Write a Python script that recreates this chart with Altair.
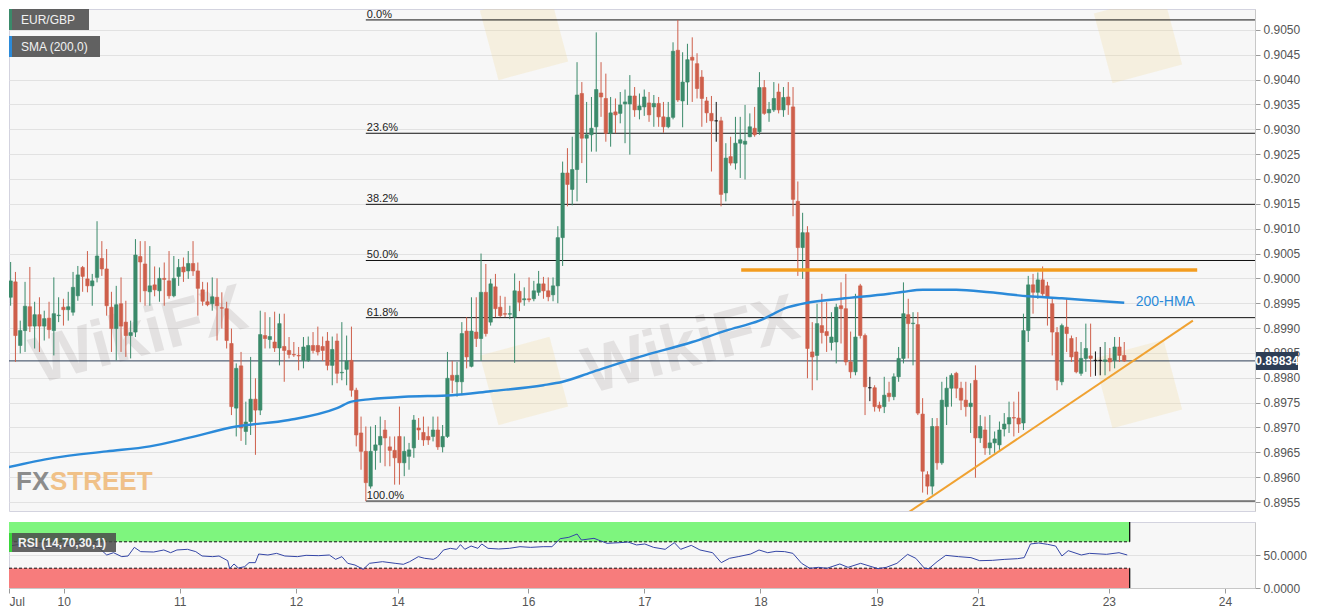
import altair as alt
import pandas as pd

# ---------------- data (EUR/GBP, 1-hour candles) ----------------
# trading-hour index: 0 = Jul 10 00:00 (weekend hours are skipped on the axis)
FIRST_HOUR = -13

OPEN = [
    0.89946, 0.89962, 0.89993, 0.89865, 0.89895, 0.89943, 0.89904, 0.89927, 0.89904, 0.89920,
    0.89895, 0.89925, 0.89942, 0.89937, 0.89932, 0.89965, 0.90022, 0.89999, 0.89985, 0.90002,
    0.90040, 0.90019, 0.89942, 0.89899, 0.89949, 0.89912, 0.89885, 0.89892, 0.90044, 0.90029,
    0.89973, 0.89987, 0.89975, 0.90000, 0.89995, 0.89965, 0.90004, 0.90023, 0.90015, 0.90030,
    0.90015, 0.89977, 0.89953, 0.89949, 0.89962, 0.89941, 0.89939, 0.89869, 0.89739, 0.89824,
    0.89692, 0.89712, 0.89757, 0.89735, 0.89885, 0.89877, 0.89872, 0.89860, 0.89863, 0.89855,
    0.89847, 0.89845, 0.89835, 0.89835, 0.89865, 0.89865, 0.89863, 0.89874, 0.89825, 0.89874,
    0.89810, 0.89817, 0.89835, 0.89775, 0.89689, 0.89652, 0.89582, 0.89654, 0.89665, 0.89695,
    0.89661, 0.89654, 0.89682, 0.89629, 0.89642, 0.89659, 0.89699, 0.89690, 0.89682, 0.89682,
    0.89695, 0.89661, 0.89682, 0.89805, 0.89792, 0.89792, 0.89894, 0.89823, 0.89892, 0.89879,
    0.89972, 0.89912, 0.89983, 0.89942, 0.89929, 0.89928, 0.89922, 0.89974, 0.89957, 0.89959,
    0.89959, 0.89972, 0.89989, 0.89975, 0.89967, 0.89985, 0.90082, 0.90212, 0.90179, 0.90219,
    0.90372, 0.90282, 0.90289, 0.90305, 0.90373, 0.90362, 0.90292, 0.90335, 0.90332, 0.90351,
    0.90351, 0.90367, 0.90339, 0.90345, 0.90353, 0.90345, 0.90352, 0.90325, 0.90305, 0.90324,
    0.90459, 0.90357, 0.90395, 0.90445, 0.90432, 0.90405, 0.90357, 0.90332, 0.90317, 0.90317,
    0.90172, 0.90245, 0.90232, 0.90272, 0.90270, 0.90285, 0.90302, 0.90295, 0.90384, 0.90333,
    0.90339, 0.90375, 0.90339, 0.90365, 0.90345, 0.90155, 0.90062, 0.90092, 0.89852, 0.89845,
    0.89905, 0.89893, 0.89871, 0.89872, 0.89945, 0.89939, 0.89832, 0.89812, 0.89985, 0.89885,
    0.89780, 0.89780, 0.89745, 0.89742, 0.89769, 0.89762, 0.89802, 0.89839, 0.89927, 0.89909,
    0.89907, 0.89727, 0.89605, 0.89582, 0.89702, 0.89629, 0.89742, 0.89779, 0.89809, 0.89779,
    0.89755, 0.89742, 0.89795, 0.89679, 0.89695, 0.89659, 0.89669, 0.89665, 0.89697, 0.89707,
    0.89720, 0.89719, 0.89709, 0.89895, 0.89987, 0.89972, 0.89997, 0.89985, 0.89949, 0.89891,
    0.89792, 0.89902, 0.89879, 0.89852, 0.89809, 0.89839, 0.89844, 0.89835, 0.89835, 0.89833,
    0.89839, 0.89835, 0.89862, 0.89845,
]
HIGH = [
    0.90032, 0.90033, 0.90013, 0.89915, 0.89993, 0.90023, 0.89953, 0.89962, 0.89935, 0.89953,
    0.90002, 0.89962, 0.89959, 0.89973, 0.90013, 0.90025, 0.90025, 0.90055, 0.90009, 0.90115,
    0.90075, 0.90059, 0.89973, 0.89985, 0.90002, 0.89955, 0.89915, 0.90079, 0.90075, 0.90075,
    0.90065, 0.90024, 0.90022, 0.90032, 0.90055, 0.90045, 0.90039, 0.90042, 0.90055, 0.90075,
    0.90032, 0.89993, 0.89992, 0.90002, 0.90000, 0.89972, 0.89953, 0.89899, 0.89829, 0.89852,
    0.89752, 0.89842, 0.89799, 0.89935, 0.89932, 0.89922, 0.89933, 0.89929, 0.89929, 0.89882,
    0.89872, 0.89862, 0.89882, 0.89883, 0.89892, 0.89903, 0.89883, 0.89892, 0.89883, 0.89889,
    0.89912, 0.89885, 0.89903, 0.89780, 0.89722, 0.89702, 0.89702, 0.89705, 0.89722, 0.89715,
    0.89682, 0.89682, 0.89742, 0.89682, 0.89669, 0.89725, 0.89719, 0.89722, 0.89702, 0.89722,
    0.89722, 0.89705, 0.89852, 0.89834, 0.89832, 0.89912, 0.89922, 0.89962, 0.89962, 0.90050,
    0.90029, 0.89999, 0.90009, 0.89965, 0.89963, 0.89945, 0.90010, 0.89995, 0.89982, 0.90002,
    0.89995, 0.90015, 0.90003, 0.90002, 0.90002, 0.90105, 0.90235, 0.90262, 0.90285, 0.90435,
    0.90395, 0.90355, 0.90365, 0.90495, 0.90435, 0.90412, 0.90365, 0.90362, 0.90375, 0.90380,
    0.90409, 0.90385, 0.90372, 0.90380, 0.90375, 0.90369, 0.90365, 0.90355, 0.90355, 0.90475,
    0.90520, 0.90455, 0.90472, 0.90485, 0.90453, 0.90419, 0.90365, 0.90367, 0.90355, 0.90325,
    0.90272, 0.90285, 0.90325, 0.90325, 0.90349, 0.90332, 0.90345, 0.90415, 0.90399, 0.90355,
    0.90395, 0.90392, 0.90385, 0.90395, 0.90385, 0.90195, 0.90132, 0.90105, 0.89912, 0.89949,
    0.89969, 0.89952, 0.89932, 0.89949, 0.89992, 0.90009, 0.89893, 0.89969, 0.89989, 0.89889,
    0.89802, 0.89785, 0.89752, 0.89802, 0.89792, 0.89809, 0.89862, 0.89992, 0.89959, 0.89932,
    0.89932, 0.89759, 0.89612, 0.89719, 0.89719, 0.89792, 0.89802, 0.89809, 0.89812, 0.89792,
    0.89792, 0.89789, 0.89825, 0.89725, 0.89722, 0.89725, 0.89692, 0.89712, 0.89729, 0.89752,
    0.89752, 0.89772, 0.89929, 0.90005, 0.90009, 0.90012, 0.90024, 0.89993, 0.89962, 0.89902,
    0.89909, 0.89959, 0.89885, 0.89882, 0.89872, 0.89909, 0.89909, 0.89853, 0.89862, 0.89872,
    0.89860, 0.89882, 0.89882, 0.89872,
]
LOW = [
    0.89859, 0.89945, 0.89832, 0.89849, 0.89852, 0.89892, 0.89859, 0.89852, 0.89875, 0.89879,
    0.89845, 0.89912, 0.89905, 0.89915, 0.89925, 0.89955, 0.89973, 0.89972, 0.89945, 0.89992,
    0.90005, 0.89925, 0.89852, 0.89835, 0.89852, 0.89842, 0.89839, 0.89882, 0.89952, 0.89945,
    0.89945, 0.89964, 0.89953, 0.89945, 0.89959, 0.89962, 0.89985, 0.89993, 0.89999, 0.90005,
    0.89925, 0.89945, 0.89944, 0.89935, 0.89875, 0.89899, 0.89859, 0.89725, 0.89682, 0.89673,
    0.89665, 0.89685, 0.89645, 0.89725, 0.89859, 0.89859, 0.89852, 0.89825, 0.89792, 0.89839,
    0.89842, 0.89815, 0.89819, 0.89832, 0.89849, 0.89845, 0.89834, 0.89815, 0.89785, 0.89789,
    0.89795, 0.89785, 0.89762, 0.89662, 0.89615, 0.89552, 0.89577, 0.89615, 0.89629, 0.89622,
    0.89622, 0.89585, 0.89585, 0.89602, 0.89615, 0.89639, 0.89675, 0.89663, 0.89665, 0.89672,
    0.89655, 0.89650, 0.89679, 0.89769, 0.89762, 0.89765, 0.89819, 0.89821, 0.89862, 0.89834,
    0.89883, 0.89905, 0.89922, 0.89922, 0.89922, 0.89918, 0.89830, 0.89934, 0.89945, 0.89952,
    0.89954, 0.89965, 0.89959, 0.89954, 0.89954, 0.89950, 0.90025, 0.90145, 0.90147, 0.90155,
    0.90232, 0.90192, 0.90255, 0.90255, 0.90325, 0.90275, 0.90265, 0.90292, 0.90312, 0.90272,
    0.90249, 0.90325, 0.90320, 0.90327, 0.90315, 0.90305, 0.90305, 0.90293, 0.90302, 0.90320,
    0.90355, 0.90304, 0.90349, 0.90355, 0.90362, 0.90305, 0.90313, 0.90215, 0.90275, 0.90145,
    0.90155, 0.90227, 0.90219, 0.90202, 0.90199, 0.90284, 0.90285, 0.90289, 0.90329, 0.90315,
    0.90335, 0.90332, 0.90325, 0.90329, 0.90125, 0.90005, 0.89999, 0.89799, 0.89775, 0.89795,
    0.89869, 0.89852, 0.89855, 0.89829, 0.89869, 0.89825, 0.89799, 0.89805, 0.89879, 0.89725,
    0.89753, 0.89732, 0.89732, 0.89729, 0.89752, 0.89755, 0.89792, 0.89829, 0.89839, 0.89825,
    0.89725, 0.89569, 0.89565, 0.89565, 0.89615, 0.89625, 0.89705, 0.89742, 0.89759, 0.89735,
    0.89722, 0.89689, 0.89599, 0.89669, 0.89645, 0.89645, 0.89649, 0.89655, 0.89682, 0.89689,
    0.89682, 0.89689, 0.89695, 0.89872, 0.89929, 0.89959, 0.89965, 0.89905, 0.89845, 0.89775,
    0.89785, 0.89852, 0.89832, 0.89809, 0.89804, 0.89812, 0.89802, 0.89804, 0.89805, 0.89805,
    0.89813, 0.89819, 0.89832, 0.89832,
]
CLOSE = [
    0.90012, 0.89995, 0.89885, 0.89895, 0.89944, 0.89904, 0.89927, 0.89904, 0.89919, 0.89897,
    0.89929, 0.89926, 0.89937, 0.89943, 0.89982, 0.90007, 0.90004, 0.89985, 0.89995, 0.90045,
    0.90019, 0.89945, 0.89899, 0.89947, 0.89904, 0.89885, 0.89891, 0.90047, 0.90033, 0.89975,
    0.89985, 0.89977, 0.90000, 0.89998, 0.89965, 0.90000, 0.90022, 0.90013, 0.90030, 0.90015,
    0.89980, 0.89954, 0.89947, 0.89963, 0.89945, 0.89940, 0.89875, 0.89742, 0.89819, 0.89699,
    0.89711, 0.89757, 0.89735, 0.89887, 0.89879, 0.89883, 0.89860, 0.89909, 0.89855, 0.89847,
    0.89846, 0.89844, 0.89862, 0.89865, 0.89855, 0.89852, 0.89855, 0.89825, 0.89857, 0.89809,
    0.89811, 0.89834, 0.89775, 0.89685, 0.89652, 0.89589, 0.89652, 0.89665, 0.89682, 0.89679,
    0.89654, 0.89639, 0.89629, 0.89652, 0.89655, 0.89715, 0.89695, 0.89675, 0.89675, 0.89695,
    0.89661, 0.89682, 0.89799, 0.89795, 0.89805, 0.89889, 0.89842, 0.89894, 0.89879, 0.89972,
    0.89889, 0.89989, 0.89939, 0.89925, 0.89928, 0.89929, 0.89975, 0.89952, 0.89959, 0.89957,
    0.89975, 0.89989, 0.89975, 0.89963, 0.89985, 0.90082, 0.90212, 0.90189, 0.90219, 0.90369,
    0.90282, 0.90289, 0.90302, 0.90380, 0.90365, 0.90292, 0.90333, 0.90329, 0.90349, 0.90355,
    0.90367, 0.90339, 0.90347, 0.90365, 0.90329, 0.90352, 0.90325, 0.90305, 0.90324, 0.90457,
    0.90359, 0.90395, 0.90440, 0.90439, 0.90382, 0.90362, 0.90333, 0.90317, 0.90317, 0.90169,
    0.90242, 0.90232, 0.90272, 0.90279, 0.90276, 0.90305, 0.90289, 0.90384, 0.90332, 0.90340,
    0.90362, 0.90339, 0.90364, 0.90349, 0.90159, 0.90062, 0.90092, 0.89859, 0.89842, 0.89909,
    0.89891, 0.89885, 0.89882, 0.89942, 0.89939, 0.89832, 0.89812, 0.89882, 0.89885, 0.89782,
    0.89780, 0.89742, 0.89739, 0.89765, 0.89762, 0.89802, 0.89839, 0.89929, 0.89909, 0.89910,
    0.89729, 0.89612, 0.89582, 0.89702, 0.89629, 0.89755, 0.89779, 0.89805, 0.89779, 0.89755,
    0.89742, 0.89749, 0.89679, 0.89702, 0.89659, 0.89669, 0.89677, 0.89695, 0.89707, 0.89720,
    0.89719, 0.89707, 0.89895, 0.89987, 0.89972, 0.89997, 0.89969, 0.89962, 0.89892, 0.89795,
    0.89905, 0.89889, 0.89842, 0.89812, 0.89839, 0.89859, 0.89839, 0.89835, 0.89835, 0.89836,
    0.89832, 0.89862, 0.89845, 0.89834,
]

# 200-period moving average line (read points)
SMA_HOURS = [-13, -3, 8, 17, 25, 35, 46, 56, 59, 63, 70, 80, 88, 99, 103, 109, 119, 130,
             137, 144, 150, 154, 161, 171, 174, 178, 185, 192, 200, 207, 214, 220]
SMA_VALUES = [0.89619, 0.89639, 0.89652, 0.89662, 0.89679, 0.89702, 0.89715, 0.89739,
              0.89752, 0.89757, 0.89762, 0.89765, 0.89773, 0.89785, 0.89792, 0.89811,
              0.89842, 0.89872, 0.89895, 0.89915, 0.89942, 0.89951, 0.89959, 0.89969,
              0.89973, 0.89977, 0.89977, 0.89972, 0.89964, 0.89960, 0.89955, 0.89951]

# RSI (14) line (read points)
RSI_HOURS = [-11.2, -9.5, -7.7, -6.0, -4.2, -2.5, 0.2, 2.8, 4.5, 6.3,
             7.6, 8.9, 10.3, 12.0, 13.3, 14.6, 15.9, 18.6, 20.7, 22.1,
             23.4, 25.6, 27.3, 28.6, 30.8, 32.1, 33.9, 34.3, 35.2, 36.1,
             37.4, 38.3, 39.6, 40.3, 42.2, 44.0, 45.7, 48.3, 50.1, 52.7,
             54.9, 56.2, 57.5, 58.7, 60.2, 61.9, 63.2, 65.9, 68.5, 70.2,
             71.5, 73.3, 74.6, 76.4, 77.2, 78.5, 79.9, 81.2, 82.0, 82.9,
             84.2, 85.6, 86.4, 87.7, 89.9, 92.1, 94.3, 96.5, 99.1, 100.9,
             102.6, 104.4, 106.1, 107.0, 109.6, 110.5, 112.3, 114.9, 116.6, 118.4,
             120.1, 121.9, 124.3, 126.2, 127.5, 129.7, 131.5, 134.1, 135.9, 137.6,
             139.4, 142.0, 143.7, 145.5, 147.2, 149.0, 150.7, 152.5, 154.2, 156.0,
             157.7, 160.4, 162.1, 164.7, 168.3, 170.0, 172.2, 174.4, 176.1, 177.9,
             178.8, 180.5, 182.3, 184.9, 187.5, 189.3, 191.9, 194.5, 197.1, 198.5,
             199.8, 201.5, 203.3, 205.0, 206.3, 207.6, 210.3, 212.0, 215.5, 218.1,
             219.8]
RSI_VALUES = [63.6, 65.7, 63.6, 61.6, 59.6, 62.6, 63.6, 66.7, 68.7, 67.7,
              58.6, 50.0, 53.5, 47.5, 48.5, 61.6, 55.1, 54.5, 57.6, 53.5,
              57.6, 58.6, 55.1, 48.5, 47.5, 48.5, 41.4, 29.3, 36.4, 30.3,
              32.3, 38.4, 38.4, 51.5, 50.0, 52.5, 48.5, 47.5, 49.5, 49.0,
              50.0, 43.4, 47.5, 37.4, 34.8, 28.3, 37.4, 39.9, 37.4, 35.9,
              39.9, 47.5, 45.0, 43.4, 46.5, 57.6, 60.1, 58.6, 65.7, 58.6,
              63.6, 60.1, 66.7, 60.1, 59.1, 60.1, 62.6, 61.6, 62.6, 62.6,
              74.7, 76.8, 81.8, 72.7, 75.3, 72.7, 67.7, 68.7, 69.7, 65.2,
              66.7, 61.6, 58.6, 68.7, 58.6, 64.6, 57.6, 53.5, 38.4, 45.0,
              47.5, 51.5, 57.6, 53.5, 55.6, 55.1, 52.5, 37.4, 29.8, 31.3,
              29.8, 36.4, 31.3, 37.4, 29.3, 31.3, 37.4, 51.0, 45.0, 29.8,
              29.3, 39.9, 49.5, 47.5, 46.0, 41.4, 41.9, 43.4, 44.4, 46.0,
              66.7, 68.2, 66.2, 63.6, 48.5, 56.6, 50.0, 52.5, 51.0, 53.5,
              50.0]

# Fibonacci retracement (swing high Jul 17 -> swing low Jul 12)
FIB_LEVELS = [0.90520, 0.90292, 0.90149, 0.90036, 0.89921, 0.89552]
FIB_LABELS = ["0.0%", "23.6%", "38.2%", "50.0%", "61.8%", "100.0%"]
FIB_START_HOUR = 62

LAST_PRICE = 0.89834
RESIST_HOURS = [140.2, 235.2]
RESIST_PRICE = 0.90017
TREND_HOURS = [175.0, 234.3]
TREND_PRICES = [0.89529, 0.89915]
HMA_LABEL = "200-HMA"
HMA_LABEL_HOUR = 222.4
HMA_LABEL_PRICE = 0.89953

RSI_OVERBOUGHT = 70
RSI_OVERSOLD = 30
RSI_LAST_HOUR = 220.3

Y_TICKS = [0.8955, 0.8960, 0.8965, 0.8970, 0.8975, 0.8980, 0.8985, 0.8990, 0.8995, 0.9000,
           0.9005, 0.9010, 0.9015, 0.9020, 0.9025, 0.9030, 0.9035, 0.9040, 0.9045, 0.9050]
RSI_TICKS = [0, 50]
X_TICKS = [-11.3, 0, 24, 48, 69, 96, 120, 144, 168, 189, 216, 240]
X_LABELS = ["Jul", "10", "11", "12", "14", "16", "17", "18", "19", "21", "23", "24"]

X_DOMAIN = [-11.3, 246.2]
Y_DOMAIN = [0.89532, 0.90542]

# watermark text (faint, as in the reference picture)
WATERMARK = "WikiFX"

# ---------------- styling ----------------
W = 1246
H_MAIN = 502
H_RSI = 66
GREEN = "#3a8a6a"
RED = "#ce5f4b"
FLAT = "#111111"
BLUE = "#2b8ad9"
ORANGE = "#f39c1f"
NAVY = "#2d3e56"
FONT = "Liberation Sans"

hours = list(range(FIRST_HOUR, FIRST_HOUR + len(OPEN)))
candles = pd.DataFrame({"t": hours, "o": OPEN, "h": HIGH, "l": LOW, "c": CLOSE})
candles["col"] = [GREEN if c > o else (RED if c < o else FLAT) for o, c in zip(OPEN, CLOSE)]
candles = candles[candles["t"] >= X_DOMAIN[0] - 1]

xs = alt.Scale(domain=X_DOMAIN, nice=False, zero=False)
ys = alt.Scale(domain=Y_DOMAIN, nice=False, zero=False)
rs = alt.Scale(domain=[0, 100], nice=False, zero=False)

y_axis_main = alt.Axis(orient="right", values=Y_TICKS, format=".4f", title=None, grid=True,
                       tickSize=5, labelPadding=3, labelOverlap=False)
label_expr = " : ".join(f"datum.value == {v} ? '{lab}'" for v, lab in zip(X_TICKS, X_LABELS)) + " : ''"
x_axis = alt.Axis(values=X_TICKS, labelExpr=label_expr, title=None, grid=False, tickSize=5,
                  labelPadding=3, labelFlush=True, labelOverlap=False)
rsi_axis = alt.Axis(orient="right", values=RSI_TICKS, format=".4f", title=None, grid=True,
                    tickSize=5, labelPadding=3, labelOverlap=False)


def X(field):
    return alt.X(field, type="quantitative", scale=xs, axis=None, title=None)


def Yp(field):
    return alt.Y(field, type="quantitative", scale=ys, axis=y_axis_main, title=None)


def Xr(field):
    return alt.X(field, type="quantitative", scale=xs, axis=x_axis, title=None)


def Yr(field):
    return alt.Y(field, type="quantitative", scale=rs, axis=rsi_axis, title=None)


one = pd.DataFrame({"k": [0]})

# ---- main price panel ----
def watermark(px, py):
    return alt.Chart(one).mark_text(align="center", baseline="middle", fontSize=66,
                                    fontWeight="bold", font=FONT, angle=345, color="#7f7474",
                                    opacity=0.16).encode(
        x=alt.value(px), y=alt.value(py), text=alt.value(WATERMARK))


def logo(px, py):
    return alt.Chart(one).mark_point(shape="square", size=5200, filled=True, angle=345,
                                     color="#f2d48e", opacity=0.22, clip=True).encode(
        x=alt.value(px), y=alt.value(py))


marks_wm = [logo(515, 372), watermark(682, 337), logo(1129, 375),
            watermark(130, 327), logo(515, 27), logo(1129, 30)]

fib_df = pd.DataFrame({"level": FIB_LEVELS, "label": FIB_LABELS,
                       "start": [FIB_START_HOUR] * len(FIB_LEVELS)})
fib_lines = alt.Chart(fib_df).mark_rule(color="#111111", strokeWidth=1).encode(
    x=X("start"), x2=alt.value(W), y=Yp("level"))
fib_text = alt.Chart(fib_df).mark_text(align="left", baseline="alphabetic", dx=1, dy=-2,
                                       fontSize=11, font=FONT, color="#222222").encode(
    x=X("start"), y=Yp("level"), text="label:N")

last_df = pd.DataFrame({"p": [LAST_PRICE], "lbl": [f"{LAST_PRICE:.5f}"]})
last_line = alt.Chart(last_df).mark_rule(color=NAVY, strokeWidth=1).encode(y=Yp("p"))

wicks = alt.Chart(candles).mark_rule(strokeWidth=1, clip=True).encode(
    x=X("t"), y=Yp("l"), y2="h:Q", color=alt.Color("col:N", scale=None))
bodies = alt.Chart(candles).mark_bar(size=3.4, strokeWidth=0.6, clip=True).encode(
    x=X("t"), y=Yp("o"), y2="c:Q",
    color=alt.Color("col:N", scale=None), stroke=alt.Stroke("col:N", scale=None))

sma_df = pd.DataFrame({"t": SMA_HOURS, "v": SMA_VALUES})
sma = alt.Chart(sma_df).mark_line(color=BLUE, strokeWidth=2.4, interpolate="monotone",
                                  clip=True).encode(x=X("t"), y=Yp("v"))

res_df = pd.DataFrame({"t": RESIST_HOURS, "p": [RESIST_PRICE] * 2})
resist = alt.Chart(res_df).mark_line(color=ORANGE, strokeWidth=3.4, clip=True).encode(
    x=X("t"), y=Yp("p"))
tr_df = pd.DataFrame({"t": TREND_HOURS, "p": TREND_PRICES})
trend = alt.Chart(tr_df).mark_line(color="#f0a232", strokeWidth=2, clip=True).encode(
    x=X("t"), y=Yp("p"))

hma_df = pd.DataFrame({"t": [HMA_LABEL_HOUR], "p": [HMA_LABEL_PRICE], "txt": [HMA_LABEL]})
hma_text = alt.Chart(hma_df).mark_text(align="left", baseline="middle", fontSize=14,
                                       font=FONT, color=BLUE).encode(
    x=X("t"), y=Yp("p"), text="txt:N")

price_box = alt.Chart(last_df).mark_rect(color=NAVY, yOffset=-9, y2Offset=9).encode(
    x=alt.value(W + 1), x2=alt.value(W + 43), y=Yp("p"), y2="p:Q")
price_txt = alt.Chart(last_df).mark_text(color="white", fontWeight="bold", fontSize=12,
                                         font=FONT, align="center", baseline="middle").encode(
    x=alt.value(W + 22), y=Yp("p"), text="lbl:N")


def tag(text, y0, width, accent):
    box = alt.Chart(one).mark_rect(color="#595959", opacity=0.95).encode(
        x=alt.value(0), x2=alt.value(width), y=alt.value(y0), y2=alt.value(y0 + 21))
    bar = alt.Chart(one).mark_rect(color=accent).encode(
        x=alt.value(0), x2=alt.value(3), y=alt.value(y0), y2=alt.value(y0 + 21))
    txt = alt.Chart(one).mark_text(align="left", baseline="middle", fontSize=12, font=FONT,
                                   color="#f2f2f2").encode(
        x=alt.value(12), y=alt.value(y0 + 11), text=alt.value(text))
    return [box, bar, txt]


fx1 = alt.Chart(one).mark_text(align="left", baseline="alphabetic", fontSize=26,
                               fontWeight="bold", font=FONT, color="#8c8c8c").encode(
    x=alt.value(7), y=alt.value(481), text=alt.value("FX"))
fx2 = alt.Chart(one).mark_text(align="left", baseline="alphabetic", fontSize=26,
                               fontWeight="bold", font=FONT, color="#f0c188").encode(
    x=alt.value(41), y=alt.value(481), text=alt.value("STREET"))

main = alt.layer(
    *marks_wm, fib_lines, last_line, wicks, bodies, sma, resist, trend, fib_text, hma_text,
    fx1, fx2, price_box, price_txt,
    *tag("EUR/GBP", 0, 80, GREEN), *tag("SMA (200,0)", 27, 91, BLUE),
).properties(width=W, height=H_MAIN)

# ---- RSI panel ----
band_df = pd.DataFrame({
    "lo": [RSI_OVERBOUGHT, 0], "hi": [100, RSI_OVERSOLD],
    "line": [RSI_OVERBOUGHT, RSI_OVERSOLD],
    "start": [X_DOMAIN[0]] * 2, "end": [RSI_LAST_HOUR] * 2,
    "fill": ["#7ef57e", "#f77c7c"],
})
bands = alt.Chart(band_df).mark_rect().encode(
    x=Xr("start"), x2="end:Q", y=Yr("lo"), y2="hi:Q",
    color=alt.Color("fill:N", scale=None))
dashes = alt.Chart(band_df).mark_rule(color="#111111", strokeDash=[3, 2], strokeWidth=1).encode(
    x=Xr("start"), x2="end:Q", y=Yr("line"))
edges = alt.Chart(band_df).mark_rule(color="#111111", strokeWidth=1.3).encode(
    x=Xr("end"), y=Yr("lo"), y2="hi:Q")

rsi_df = pd.DataFrame({"t": RSI_HOURS, "v": RSI_VALUES})
rsi_line = alt.Chart(rsi_df).mark_line(color="#3446a6", strokeWidth=1, clip=True).encode(
    x=Xr("t"), y=Yr("v"))

rsi_box = alt.Chart(one).mark_rect(color="#4a4a4a", opacity=0.85).encode(
    x=alt.value(0), x2=alt.value(107), y=alt.value(11), y2=alt.value(30))
rsi_bar = alt.Chart(one).mark_rect(color="#39d639").encode(
    x=alt.value(0), x2=alt.value(3), y=alt.value(11), y2=alt.value(30))
rsi_txt = alt.Chart(one).mark_text(align="left", baseline="middle", fontSize=12, font=FONT,
                                   fontWeight="bold", color="#f2f2f2").encode(
    x=alt.value(9), y=alt.value(21), text=alt.value("RSI (14,70,30,1)"))

rsi = alt.layer(bands, dashes, edges, rsi_line, rsi_box, rsi_bar, rsi_txt).properties(
    width=W, height=H_RSI)

chart = alt.vconcat(main, rsi, spacing=8).properties(padding=0).configure(
    background="white"
).configure_view(
    fill="#f7f7f7", stroke="#d3d3df", strokeWidth=1
).configure_axis(
    labelFont=FONT, labelFontSize=12, labelColor="#555555", tickColor="#9a9a9a",
    domainColor="#c8c8c8", gridColor="#e2e2e2"
)

chart.save("out.html", embed_options={"renderer": "svg", "actions": False})
